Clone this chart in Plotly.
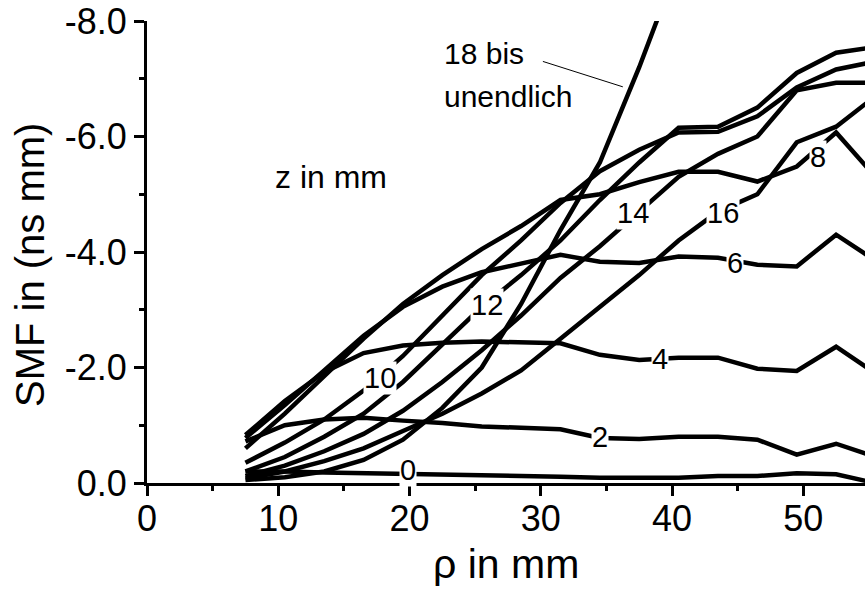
import plotly.graph_objects as go

rho = [7.5, 10.5, 13.5, 16.5, 19.5, 22.5, 25.5, 28.5, 31.5, 34.5, 37.5, 40.5, 43.5, 46.5, 49.5, 52.5, 55.5]

smf_z0 = [-0.20, -0.20, -0.18, -0.17, -0.16, -0.14, -0.13, -0.12, -0.11, -0.09, -0.09, -0.09, -0.12, -0.12, -0.17, -0.15, 0.0]
smf_z2 = [-0.72, -1.00, -1.10, -1.13, -1.08, -1.04, -0.98, -0.95, -0.93, -0.78, -0.76, -0.80, -0.80, -0.75, -0.49, -0.68, -0.45]
smf_z4 = [-0.83, -1.42, -1.92, -2.25, -2.38, -2.43, -2.45, -2.44, -2.42, -2.22, -2.13, -2.17, -2.17, -1.98, -1.94, -2.36, -1.90]
smf_z6 = [-0.78, -1.35, -1.95, -2.55, -3.05, -3.40, -3.65, -3.80, -3.95, -3.83, -3.81, -3.92, -3.90, -3.78, -3.75, -4.30, -3.85]
smf_z8 = [-0.60, -1.20, -1.85, -2.50, -3.10, -3.60, -4.05, -4.45, -4.90, -5.00, -5.21, -5.39, -5.39, -5.22, -5.48, -6.07, -5.30]
smf_z10 = [-0.35, -0.70, -1.10, -1.60, -2.20, -2.90, -3.60, -4.20, -4.85, -5.40, -5.77, -6.07, -6.08, -6.35, -6.85, -7.16, -7.30]
smf_z12 = [-0.20, -0.45, -0.80, -1.20, -1.75, -2.40, -3.05, -3.60, -4.20, -4.90, -5.55, -6.15, -6.17, -6.50, -7.10, -7.45, -7.55]
smf_z14 = [-0.12, -0.30, -0.55, -0.85, -1.25, -1.75, -2.30, -2.90, -3.55, -4.10, -4.70, -5.30, -5.70, -6.00, -6.80, -6.93, -6.93]
smf_z16 = [-0.08, -0.20, -0.38, -0.60, -0.90, -1.20, -1.55, -1.95, -2.50, -3.05, -3.60, -4.20, -4.70, -5.00, -5.90, -6.17, -6.70]
smf_z18 = [-0.05, -0.10, -0.20, -0.40, -0.75, -1.30, -2.00, -3.10, -4.38, -5.55, -7.20, -9.00]

series = [smf_z0, smf_z2, smf_z4, smf_z6, smf_z8, smf_z10, smf_z12, smf_z14, smf_z16, smf_z18]

x_ticks = [0, 10, 20, 30, 40, 50]
x_ticktext = ["0", "10", "20", "30", "40", "50"]
y_ticks = [0, -2, -4, -6, -8]
y_ticktext = ["0.0", "-2.0", "-4.0", "-6.0", "-8.0"]

# inline curve labels: (text, rho, smf)
curve_labels = [
    ("0", 19.9, -0.23),
    ("2", 34.5, -0.80),
    ("4", 39.1, -2.14),
    ("6", 44.8, -3.81),
    ("8", 51.1, -5.65),
    ("10", 17.75, -1.82),
    ("12", 25.9, -3.08),
    ("14", 37.0, -4.68),
    ("16", 43.9, -4.68),
]

FONT = "Liberation Sans, Arial, sans-serif"

W, H = 865, 592
L, R, T, B = 147, 0, 21, 109
pw, ph = W - L - R, H - T - B

def px2paper(px, py):
    return (px - L) / pw, (H - B - py) / ph

fig = go.Figure()
for ys in series:
    fig.add_trace(go.Scatter(
        x=rho[:len(ys)], y=ys, mode="lines",
        line=dict(color="black", width=4.5),
        showlegend=False, hoverinfo="skip",
    ))

annotations = []
for txt, xv, yv in curve_labels:
    annotations.append(dict(
        x=xv, y=yv, xref="x", yref="y", text=txt, showarrow=False,
        xanchor="center", yanchor="middle",
        font=dict(family=FONT, size=29, color="black"),
        bgcolor="white", borderpad=0,
    ))

zx, zy = px2paper(331, 177)
annotations.append(dict(x=zx, y=zy, xref="paper", yref="paper", text="z in mm",
                        xanchor="center", yanchor="middle",
                        showarrow=False, font=dict(family=FONT, size=32, color="black")))
bx, by = px2paper(442, 54)
annotations.append(dict(x=bx, y=by, xref="paper", yref="paper", xanchor="left",
                        yanchor="middle", text="18 bis", showarrow=False,
                        font=dict(family=FONT, size=30, color="black")))
ux, uy = px2paper(442, 96)
annotations.append(dict(x=ux, y=uy, xref="paper", yref="paper", xanchor="left",
                        yanchor="middle", text="unendlich", showarrow=False,
                        font=dict(family=FONT, size=30, color="black")))

# axis titles
annotations.append(dict(x=0.5, y=0, xref="paper", yref="paper", xanchor="center",
                        yanchor="middle", yshift=-81, text="ρ in mm", showarrow=False,
                        font=dict(family=FONT, size=41, color="black")))
annotations.append(dict(x=0, y=0.5, xref="paper", yref="paper", xanchor="center",
                        yanchor="middle", xshift=-117, yshift=-13, textangle=-90,
                        text="SMF in (ns mm)", showarrow=False,
                        font=dict(family=FONT, size=40, color="black")))

fig.update_layout(
    width=W, height=H,
    margin=dict(l=L, r=R, t=T, b=B, autoexpand=False),
    plot_bgcolor="white", paper_bgcolor="white",
    font=dict(family=FONT, color="black"),
    showlegend=False,
    xaxis=dict(
        range=[0, 54.7], showgrid=False, zeroline=False, automargin=False,
        showline=True, linecolor="black", linewidth=3,
        ticks="outside", ticklen=10, tickwidth=3, tickcolor="black",
        tickmode="array", tickvals=x_ticks, ticktext=x_ticktext,
        ticklabelstandoff=-8,
        tickfont=dict(family=FONT, size=36, color="black"),
        minor=dict(tickmode="array", tickvals=[5, 15, 25, 35, 45], ticks="outside",
                   ticklen=5, tickwidth=3, tickcolor="black"),
    ),
    yaxis=dict(
        range=[0, -8], showgrid=False, zeroline=False, automargin=False,
        showline=True, linecolor="black", linewidth=3,
        ticks="outside", ticklen=10, tickwidth=3, tickcolor="black",
        tickmode="array", tickvals=y_ticks, ticktext=y_ticktext,
        tickfont=dict(family=FONT, size=36, color="black"),
        minor=dict(tickmode="array", tickvals=[-1, -3, -5, -7], ticks="outside",
                   ticklen=5, tickwidth=3, tickcolor="black"),
    ),
    annotations=annotations,
)

# pointer line from "18 bis" to the steep curve
fig.add_shape(type="line", xref="x", yref="y",
              x0=30.16, y0=-7.30, x1=36.25, y1=-6.86,
              line=dict(color="black", width=1))

fig.write_html(
    "out.html",
    config={"displayModeBar": False},
    post_script="document.body.style.margin='0';document.body.style.overflow='hidden';",
)
